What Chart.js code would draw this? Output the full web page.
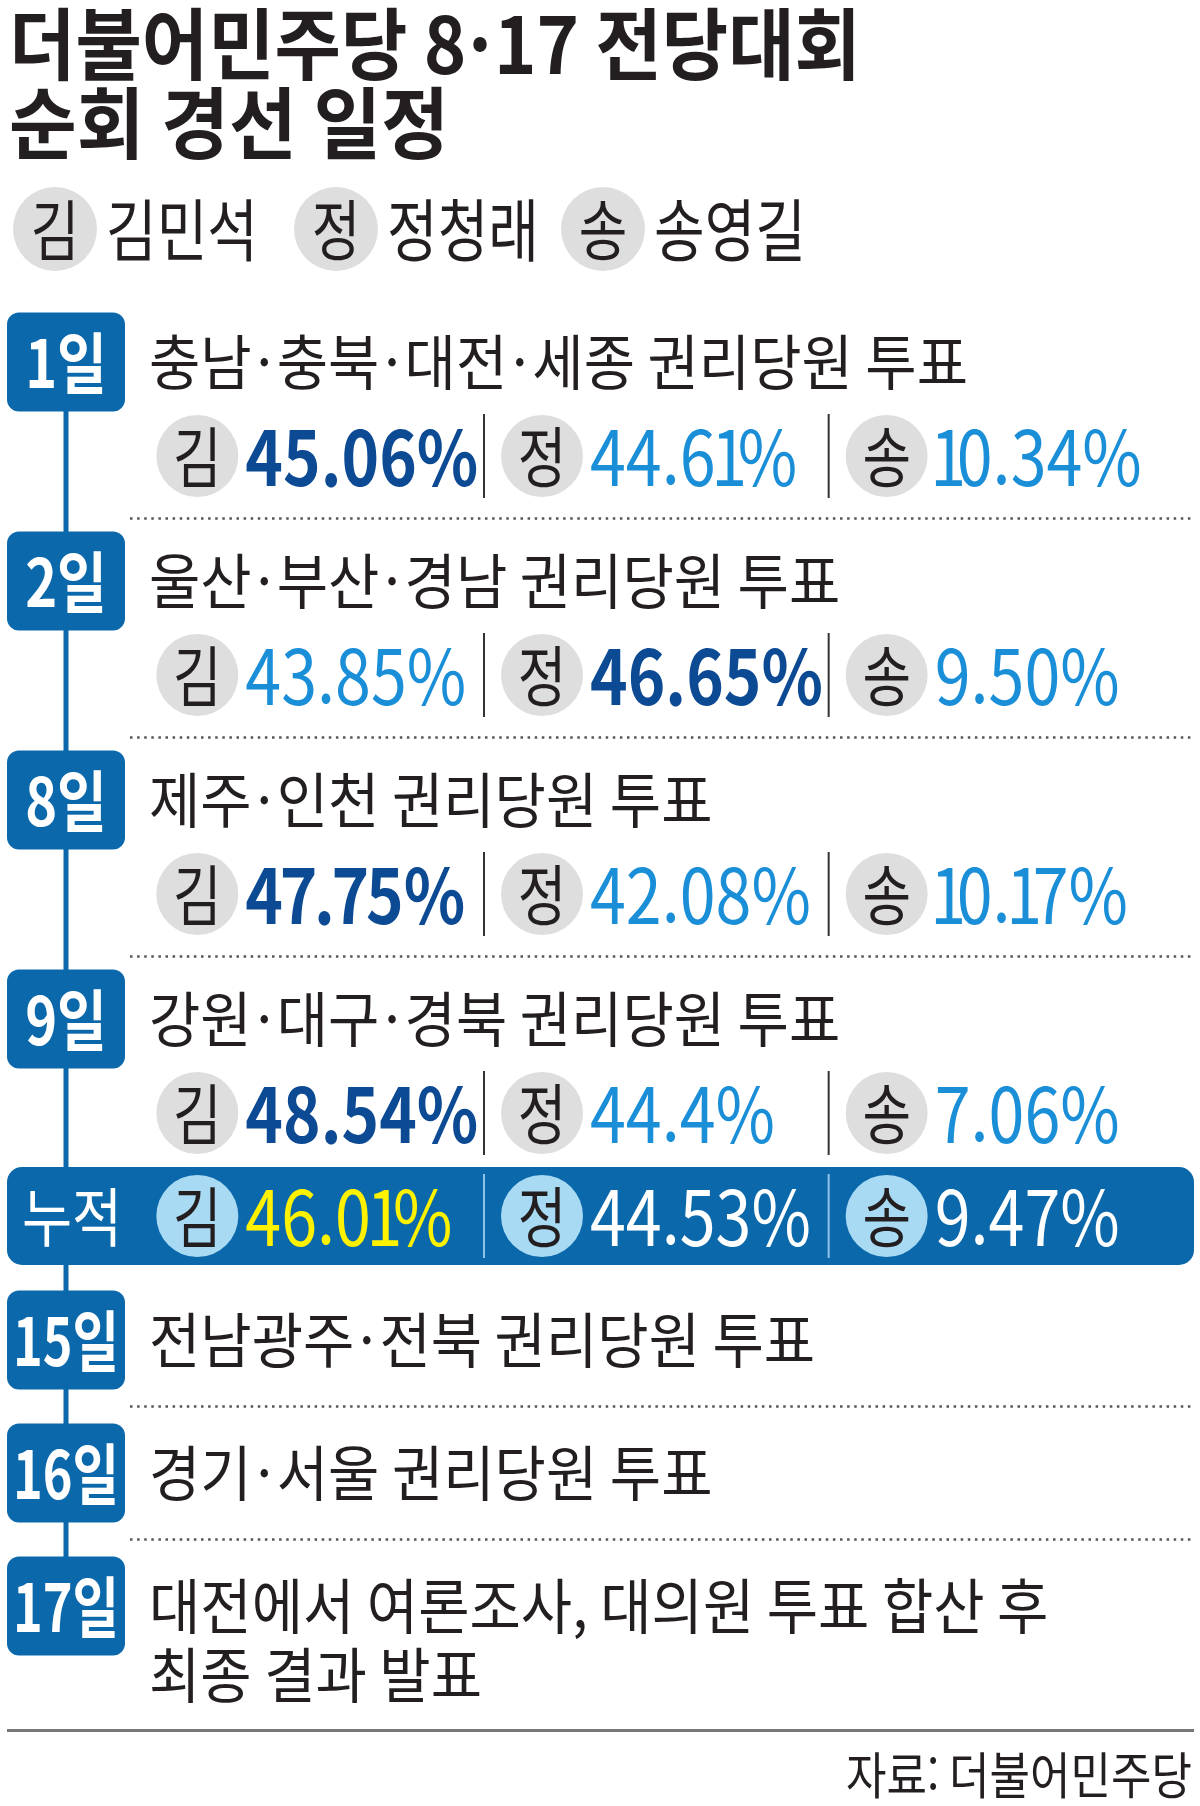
<!DOCTYPE html>
<html lang="ko">
<head>
<meta charset="utf-8">
<title>더불어민주당 8·17 전당대회 순회 경선 일정</title>
<script src="https://cdn.jsdelivr.net/npm/chart.js@4.4.1/dist/chart.umd.min.js"></script>
<style>
  html, body { margin: 0; padding: 0; background: #fff; }
  #wrap { width: 1200px; height: 1806px; }
</style>
</head>
<body>
<div id="wrap"><canvas id="board" width="1200" height="1806"></canvas></div>
<script>
const TITLE_LINES = ['더불어민주당 8·17 전당대회', '순회 경선 일정'];
const CANDIDATES = ['김', '정', '송'];
const CANDIDATE_NAMES = ['김민석', '정청래', '송영길'];
const STAGE_DAYS = ['1일', '2일', '8일', '9일', '15일', '16일', '17일'];
const STAGE_TITLES = [
  '충남·충북·대전·세종 권리당원 투표',
  '울산·부산·경남 권리당원 투표',
  '제주·인천 권리당원 투표',
  '강원·대구·경북 권리당원 투표',
  '전남광주·전북 권리당원 투표',
  '경기·서울 권리당원 투표',
  '대전에서 여론조사, 대의원 투표 합산 후\n최종 결과 발표'
];
// vote shares (%) as printed, stages 1일..9일
const KIM_SHARE   = ['45.06', '43.85', '47.75', '48.54'];
const JEONG_SHARE = ['44.61', '46.65', '42.08', '44.4'];
const SONG_SHARE  = ['10.34', '9.50', '10.17', '7.06'];
const CUM_LABEL = '누적';
const CUM_SHARE = ['46.01', '44.53', '9.47'];
const SOURCE = '자료: 더불어민주당';

// --- styles / layout ---
const W = 1200, H = 1806;
const FONT = '"Noto Sans CJK KR", "Noto Sans", sans-serif';
const INK = '#231f20';
const BLUE = '#0b68ab';
const DARK = '#0d4a94';
const LIGHT = '#1a8fd8';
const BADGE = '#dedede';
const BADGE_CUM = '#a8daf3';
const YELLOW = '#fff200';
const L = {
  firstHead: 362, headToRes: 94, resToHead: 125, resToCum: 103,
  cumToHead: 124, plainStep: 133, line2: 69,
  boxX: 7, boxW: 118, boxH: 99, textX: 149, rightX: 1194, dotX: 130,
  badgeR: 41, pctGap: 48, sepGap: 58
};

const shareCols = [KIM_SHARE, JEONG_SHARE, SONG_SHARE];
const nResult = KIM_SHARE.length;

// row centres (y-scale values) derived from the stage sequence
const stageY = [], resultY = [];
let y = L.firstHead, cumY = 0;
STAGE_DAYS.forEach((d, i) => {
  stageY.push(y);
  if (i < nResult) {
    resultY.push(y + L.headToRes);
    if (i === nResult - 1) {
      cumY = y + L.headToRes + L.resToCum;
      y = cumY + L.cumToHead;
    } else {
      y = y + L.headToRes + L.resToHead;
    }
  } else {
    y += L.plainStep;
  }
});
const lastLineY = stageY[stageY.length - 1] + L.line2;

// badge points: one per candidate per result row, then the cumulative row
const badgePoints = [];
const badgeMeta = [];
for (let r = 0; r < nResult; r++) {
  const vals = shareCols.map(col => parseFloat(col[r]));
  const top = vals.indexOf(Math.max(...vals));
  CANDIDATES.forEach((c, ci) => {
    badgePoints.push({ x: c, y: resultY[r], r: L.badgeR });
    badgeMeta.push({ label: shareCols[ci][r] + '%', lead: ci === top, cum: false });
  });
}
const cumVals = CUM_SHARE.map(Number);
const cumTop = cumVals.indexOf(Math.max(...cumVals));
CANDIDATES.forEach((c, ci) => {
  badgePoints.push({ x: c, y: cumY, r: L.badgeR });
  badgeMeta.push({ label: CUM_SHARE[ci] + '%', lead: ci === cumTop, cum: true });
});

// text with horizontal squeeze; chars listed in o.slots get a fixed advance
function text(ctx, str, x, yy, o) {
  ctx.save();
  ctx.font = (o.weight || 400) + ' ' + o.size + 'px ' + FONT;
  ctx.fillStyle = o.color || INK;
  ctx.textBaseline = 'middle';
  const slots = o.slots || {};
  const runs = [];
  let buf = '';
  for (const ch of str) {
    if (slots[ch]) {
      if (buf) runs.push({ s: buf, w: ctx.measureText(buf).width });
      runs.push({ s: ch, w: slots[ch][0], nudge: slots[ch][1] || 0, slot: true });
      buf = '';
    } else buf += ch;
  }
  if (buf) runs.push({ s: buf, w: ctx.measureText(buf).width });
  const total = runs.reduce((a, r) => a + r.w, 0);
  let sx = o.sx || 1;
  if (o.width) sx = o.width / total;
  if (o.maxWidth && total * sx > o.maxWidth) sx = o.maxWidth / total;
  const align = o.align || 'left';
  let cx = align === 'center' ? -total / 2 : align === 'right' ? -total : 0;
  ctx.translate(x, yy);
  ctx.scale(sx, 1);
  runs.forEach(r => {
    ctx.textAlign = r.slot ? 'center' : 'left';
    ctx.fillText(r.s, r.slot ? cx + r.w / 2 + r.nudge : cx, 0);
    cx += r.w;
  });
  ctx.restore();
  return sx;
}

function roundRect(ctx, x, yy, w, h, r, fill) {
  ctx.beginPath();
  ctx.roundRect(x, yy, w, h, r);
  ctx.fillStyle = fill;
  ctx.fill();
}

function dotted(ctx, yy) {
  ctx.save();
  ctx.strokeStyle = '#555';
  ctx.lineWidth = 2.5;
  ctx.setLineDash([2.5, 4.6]);
  ctx.beginPath();
  ctx.moveTo(L.dotX, yy);
  ctx.lineTo(L.rightX, yy);
  ctx.stroke();
  ctx.restore();
}

const DOT_SLOT_TITLE = { '·': [30] };
const DOT_SLOT_TEXT = { '·': [27] };
const DIGIT_SLOTS = { '1': [26, 3] };
const DIGIT_SLOTS_BOLD = { '1': [28, 3], '7': [37, 0] };

const infographic = {
  id: 'infographic',
  beforeDatasetsDraw(chart) {
    const ctx = chart.ctx;
    const xs = chart.scales.x;
    const ys = chart.scales.y;
    const py = v => ys.getPixelForValue(v);

    // title
    text(ctx, TITLE_LINES[0], 9, py(44), { size: 78, weight: 700, width: 852, slots: DOT_SLOT_TITLE });
    text(ctx, TITLE_LINES[1], 9, py(123), { size: 78, weight: 700, width: 440 });

    // legend
    const legX = [55, 336, 603];
    CANDIDATES.forEach((c, i) => {
      ctx.beginPath();
      ctx.arc(legX[i], py(229), 42, 0, Math.PI * 2);
      ctx.fillStyle = BADGE;
      ctx.fill();
      text(ctx, c, legX[i], py(229) + 1, { size: 66, sx: 0.8, align: 'center' });
      text(ctx, CANDIDATE_NAMES[i], legX[i] + 51, py(229) + 1, { size: 68, sx: 0.81 });
    });

    // timeline spine
    const cx = L.boxX + L.boxW / 2;
    ctx.fillStyle = BLUE;
    ctx.fillRect(cx - 2.5, py(stageY[0]), 5, py(stageY[stageY.length - 1]) - py(stageY[0]));

    // separators between items
    for (let i = 0; i < nResult - 1; i++) dotted(ctx, py((resultY[i] + stageY[i + 1]) / 2));
    for (let i = nResult; i < STAGE_DAYS.length - 1; i++) dotted(ctx, py((stageY[i] + stageY[i + 1]) / 2));

    // stage boxes and titles
    STAGE_DAYS.forEach((d, i) => {
      const sy = py(stageY[i]);
      roundRect(ctx, L.boxX, sy - L.boxH / 2, L.boxW, L.boxH, 12, BLUE);
      text(ctx, d, cx, sy + 1, { size: 66, weight: 700, color: '#fff', sx: 0.82, maxWidth: 106, align: 'center' });
      STAGE_TITLES[i].split('\n').forEach((line, li) => {
        text(ctx, line, L.textX, py(stageY[i] + li * L.line2), { size: 60, sx: 0.93, slots: DOT_SLOT_TEXT });
      });
    });

    // cumulative bar
    const cy = py(cumY);
    roundRect(ctx, L.boxX, cy - 49, L.rightX - L.boxX, 98, 15, BLUE);
    text(ctx, CUM_LABEL, 72, cy + 1, { size: 64, color: '#fff', sx: 0.85, align: 'center' });

    // vertical dividers in result rows
    [...resultY, cumY].forEach((ry, ri) => {
      ctx.fillStyle = ri < nResult ? '#333' : '#8fc2e8';
      for (let ci = 1; ci < CANDIDATES.length; ci++) {
        const sx = xs.getPixelForValue(ci) - L.sepGap;
        ctx.fillRect(sx - 1, py(ry) - 42, 2, 84);
      }
    });

    // footer
    ctx.fillStyle = '#777';
    ctx.fillRect(L.boxX, py(lastLineY + 54), L.rightX - L.boxX, 3);
    text(ctx, SOURCE, 1192, py(lastLineY + 100), { size: 50, sx: 0.88, align: 'right' });
  },
  afterDatasetsDraw(chart) {
    const ctx = chart.ctx;
    const meta = chart.getDatasetMeta(0);
    meta.data.forEach((el, i) => {
      const m = badgeMeta[i];
      const ci = i % CANDIDATES.length;
      text(ctx, CANDIDATES[ci], el.x, el.y + 1, { size: 66, sx: 0.8, align: 'center' });
      let color, weight = 400, sx = 0.85, slots = DIGIT_SLOTS;
      if (m.cum) color = m.lead ? YELLOW : '#fff';
      else if (m.lead) { color = DARK; weight = 700; sx = 0.84; slots = DIGIT_SLOTS_BOLD; }
      else color = LIGHT;
      text(ctx, m.label, el.x + L.pctGap, el.y + 1, { size: 76, weight, color, sx, slots });
    });
  }
};

new Chart(document.getElementById('board'), {
  type: 'bubble',
  data: {
    labels: CANDIDATES,
    datasets: [{
      data: badgePoints,
      backgroundColor: badgeMeta.map(m => (m.cum ? BADGE_CUM : BADGE)),
      borderWidth: 0,
      hoverRadius: 0,
      clip: false
    }]
  },
  options: {
    responsive: false,
    animation: false,
    devicePixelRatio: 1,
    events: [],
    layout: { autoPadding: false, padding: { left: 25, right: 141, top: 0, bottom: 0 } },
    scales: {
      x: { type: 'category', labels: CANDIDATES, offset: true, display: false },
      y: { type: 'linear', min: 0, max: H, reverse: true, display: false }
    },
    plugins: { legend: { display: false }, tooltip: { enabled: false } }
  },
  plugins: [infographic]
});
</script>
</body>
</html>
